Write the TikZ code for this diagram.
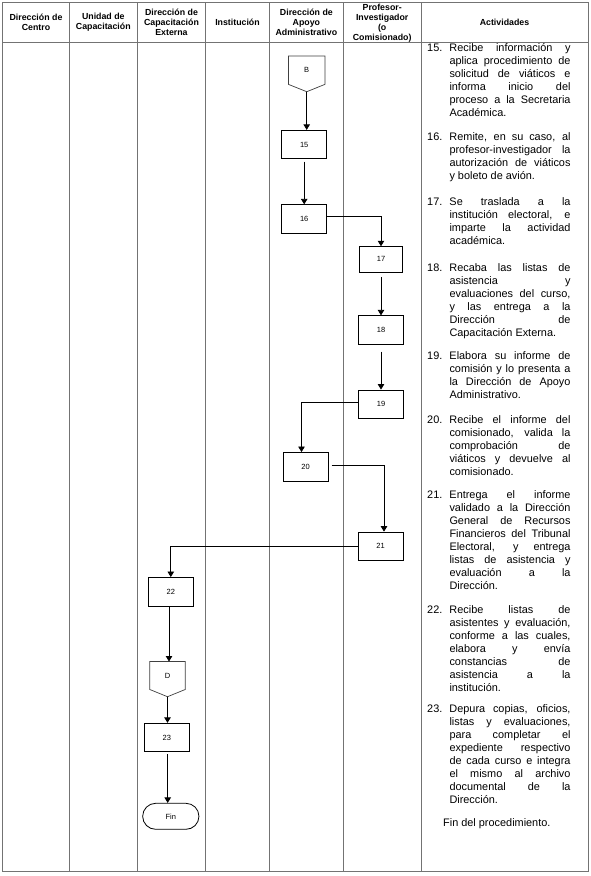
\documentclass[tikz,border=0pt]{standalone}
\usepackage{fontspec}
\setmainfont{Liberation Sans}
\usetikzlibrary{arrows.meta}
\tikzset{
  grid/.style={draw=black!55, line width=0.8pt},
  stepbox/.style={draw=black, line width=0.8pt, minimum width=45pt, minimum height=28.5pt, inner sep=0pt, font=\fontsize{7.5}{8}\selectfont},
  offpage/.style={inner sep=0pt, minimum width=36pt, minimum height=28pt, font=\fontsize{7.5}{8}\selectfont},
  offline/.style={draw=black!75, line width=0.7pt},
  conn/.style={draw=black, line width=0.8pt, -{Triangle[length=5.5pt,width=6.5pt]}},
  hdr/.style={align=center, font=\fontsize{8.8}{10}\selectfont\bfseries, inner sep=0pt},
  act/.style={inner sep=0pt, anchor=base west, font=\fontsize{10.9}{13}\selectfont},
}
\newcommand\actitem[3]{%
  \node[act] (a#2) at (427,#1) {\parbox[t]{22.3pt}{#2.}\parbox[t]{121pt}{\tolerance=10000\hyphenpenalty=10000\exhyphenpenalty=10000 #3}};}
\begin{document}
\begin{tikzpicture}[x=1pt,y=-1pt]
\useasboundingbox (0,0) rectangle (590,876);
\fill[white] (0,0) rectangle (590,876);
% table
\draw[grid] (2.7,2) rectangle (588,871);
\draw[grid] (2.7,42.5) -- (588,42.5);
\foreach \x in {69.3,137.3,205.7,269.3,343.5,421} \draw[grid] (\x,2) -- (\x,871);
% header
\node[hdr] (h1) at (36,22.5) {Dirección de\\Centro};
\node[hdr] (h2) at (103.3,22.5) {Unidad de\\Capacitación};
\node[hdr] (h3) at (171.5,22.5) {Dirección de\\Capacitación\\Externa};
\node[hdr] (h4) at (237.5,22.5) {Institución};
\node[hdr] (h5) at (306.4,22.5) {Dirección de\\Apoyo\\Administrativo};
\node[hdr] (h6) at (382.2,23) {Profesor-\\Investigador\\(o\\Comisionado)};
\node[hdr] (h7) at (504.5,22.5) {Actividades};
% flow
\node[offpage] (B) at (306.7,70.2) {B};
\coordinate (Btip) at (306.7,91.7);
\draw[offline] (B.north west) -- (B.north east) -- (B.south east) -- (Btip) -- (B.south west) -- cycle;
\node[stepbox] (s15) at (304.2,144.5) {15};
\node[stepbox] (s16) at (304.2,219) {16};
\node[stepbox, minimum width=43.4pt, minimum height=25.3pt] (s17) at (381,259.3) {17};
\node[stepbox] (s18) at (381,330) {18};
\node[stepbox] (s19) at (381,404.2) {19};
\node[stepbox] (s20) at (305.5,466.7) {20};
\node[stepbox] (s21) at (380.5,546.3) {21};
\node[stepbox] (s22) at (170.8,591.7) {22};
\node[offpage, minimum width=35pt, minimum height=27.6pt] (D) at (167.5,675.5) {D};
\coordinate (Dtip) at (167.5,696.7);
\draw[offline] (D.north west) -- (D.north east) -- (D.south east) -- (Dtip) -- (D.south west) -- cycle;
\node[stepbox] (s23) at (166.8,737.5) {23};
\node[stepbox, minimum width=56.3pt, minimum height=26pt, rounded corners=13pt] (fin) at (170.8,816.3) {Fin};
% connectors
\draw[conn] (Btip) -- (Btip |- s15.north);
\draw[conn, shorten <=2.5pt] (s15.south) -- (s16.north);
\draw[conn] ([yshift=3pt]s16.east) -| (s17.north);
\draw[conn, shorten <=4.5pt] (s17.south) -- (s18.north);
\draw[conn, shorten <=7pt] (s18.south) -- (s19.north);
\draw[conn] ([yshift=2pt]s19.west) -| ([xshift=-4pt]s20.north);
\draw[conn, shorten <=3.3pt] ([yshift=1.4pt]s20.east) -| ([xshift=3.5pt]s21.north);
\draw[conn] (s21.west) -| (s22.north);
\draw[conn] ([xshift=-1.8pt]s22.south) -- ([xshift=-1.8pt]s22.south |- D.north);
\draw[conn] (Dtip) -- (Dtip |- s23.north);
\draw[conn, shorten <=2.3pt] ([xshift=0.9pt]s23.south) -- ([xshift=0.9pt]s23.south |- fin.north);
% activities
\actitem{51.5}{15}{Recibe información y\linebreak aplica procedimiento de\linebreak solicitud de viáticos e\linebreak informa inicio del\linebreak proceso a la Secretaria\linebreak Académica.}
\actitem{140.5}{16}{Remite, en su caso, al\linebreak profesor-investigador la\linebreak autorización de viáticos\linebreak y boleto de avión.}
\actitem{205}{17}{Se traslada a la\linebreak institución electoral, e\linebreak imparte la actividad\linebreak académica.}
\actitem{271}{18}{Recaba las listas de\linebreak asistencia y\linebreak evaluaciones del curso,\linebreak y las entrega a la\linebreak Dirección de\linebreak Capacitación Externa.}
\actitem{359.5}{19}{Elabora su informe de\linebreak comisión y lo presenta a\linebreak la Dirección de Apoyo\linebreak Administrativo.}
\actitem{423.5}{20}{Recibe el informe del\linebreak comisionado, valida la\linebreak comprobación de\linebreak viáticos y devuelve al\linebreak comisionado.}
\actitem{498}{21}{Entrega el informe\linebreak validado a la Dirección\linebreak General de Recursos\linebreak Financieros del Tribunal\linebreak Electoral, y entrega\linebreak listas de asistencia y\linebreak evaluación a la\linebreak Dirección.}
\actitem{613.5}{22}{Recibe listas de\linebreak asistentes y evaluación,\linebreak conforme a las cuales,\linebreak elabora y envía\linebreak constancias de\linebreak asistencia a la\linebreak institución.}
\actitem{712}{23}{Depura copias, oficios,\linebreak listas y evaluaciones,\linebreak para completar el\linebreak expediente respectivo\linebreak de cada curso e integra\linebreak el mismo al archivo\linebreak documental de la\linebreak Dirección.}
\node[act] (finproc) at (443,826) {Fin del procedimiento.};
\end{tikzpicture}
\end{document}
